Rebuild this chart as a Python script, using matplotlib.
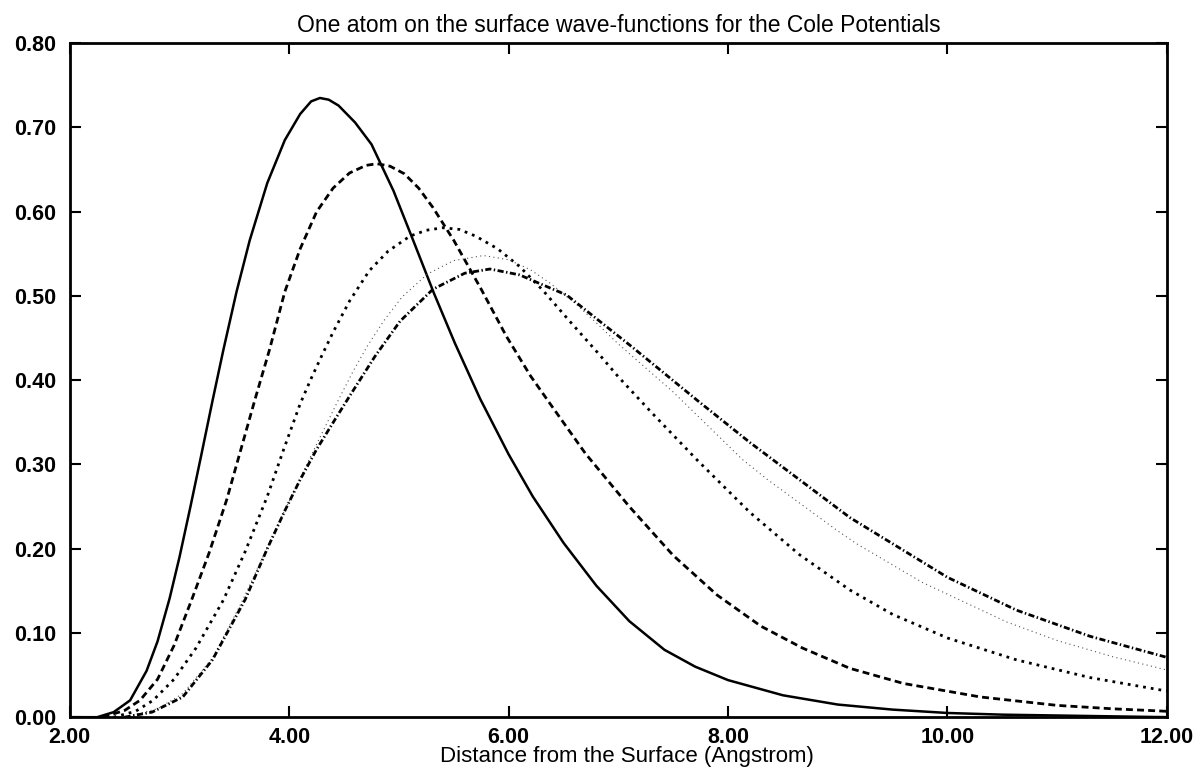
import matplotlib
matplotlib.use('Agg')
import matplotlib.pyplot as plt

# curve data (distance in Angstrom, wave-function value)
x_a = [2.00, 2.25, 2.40, 2.55, 2.70, 2.80, 2.91, 3.00, 3.10, 3.20, 3.30, 3.40, 3.52,
       3.64, 3.80, 3.96, 4.10, 4.20, 4.28, 4.36, 4.45, 4.60, 4.75, 4.95, 5.13, 5.32,
       5.51, 5.74, 6.00, 6.22, 6.50, 6.80, 7.10, 7.42, 7.70, 8.00, 8.50, 9.00, 9.50,
       10.00, 10.50, 11.00, 12.00]
y_a = [0.000, 0.000, 0.006, 0.020, 0.055, 0.090, 0.141, 0.190, 0.250, 0.312, 0.375, 0.436, 0.505,
       0.566, 0.634, 0.685, 0.716, 0.731, 0.735, 0.733, 0.726, 0.706, 0.680, 0.625, 0.566, 0.503,
       0.444, 0.378, 0.312, 0.262, 0.207, 0.156, 0.114, 0.080, 0.060, 0.044, 0.026, 0.015, 0.009,
       0.005, 0.003, 0.002, 0.000]

x_b = [2.30, 2.50, 2.64, 2.80, 2.95, 3.11, 3.27, 3.43, 3.56, 3.69, 3.82, 3.96, 4.10,
       4.25, 4.40, 4.55, 4.70, 4.80, 4.92, 5.05, 5.18, 5.31, 5.50, 5.75, 5.98, 6.20,
       6.40, 6.70, 7.10, 7.50, 7.90, 8.30, 8.68, 9.11, 9.60, 10.30, 11.00, 11.50, 12.00]
y_b = [0.000, 0.008, 0.020, 0.045, 0.085, 0.139, 0.195, 0.258, 0.318, 0.378, 0.436, 0.505, 0.556,
       0.600, 0.628, 0.646, 0.655, 0.657, 0.654, 0.645, 0.628, 0.605, 0.566, 0.508, 0.452, 0.405,
       0.368, 0.313, 0.250, 0.192, 0.145, 0.108, 0.082, 0.058, 0.040, 0.024, 0.014, 0.010, 0.007]

x_c = [2.40, 2.60, 2.76, 2.95, 3.15, 3.40, 3.60, 3.80, 3.95, 4.10, 4.20, 4.30, 4.40,
       4.55, 4.73, 4.90, 5.10, 5.25, 5.40, 5.55, 5.70, 5.90, 6.10, 6.31, 6.55, 6.83,
       7.00, 7.30, 7.72, 8.20, 8.65, 9.11, 9.50, 10.00, 10.63, 11.30, 12.00]
y_c = [0.000, 0.007, 0.020, 0.045, 0.082, 0.139, 0.197, 0.262, 0.318, 0.372, 0.402, 0.430, 0.457,
       0.494, 0.530, 0.553, 0.571, 0.578, 0.581, 0.579, 0.571, 0.556, 0.535, 0.507, 0.471, 0.430,
       0.404, 0.362, 0.305, 0.243, 0.193, 0.151, 0.122, 0.094, 0.068, 0.047, 0.031]

x_d = [2.50, 2.80, 3.03, 3.30, 3.55, 3.76, 3.92, 4.07, 4.19, 4.31, 4.45, 4.58, 4.71,
       4.87, 5.03, 5.26, 5.50, 5.77, 6.00, 6.20, 6.38, 6.60, 6.80, 7.00, 7.50, 8.13,
       8.36, 8.99, 9.17, 9.77, 10.54, 11.00, 11.50, 12.00]
y_d = [0.000, 0.010, 0.028, 0.070, 0.132, 0.190, 0.235, 0.275, 0.308, 0.340, 0.377, 0.410, 0.440,
       0.472, 0.499, 0.526, 0.542, 0.548, 0.543, 0.531, 0.515, 0.492, 0.468, 0.443, 0.386, 0.306,
       0.282, 0.222, 0.206, 0.160, 0.113, 0.091, 0.072, 0.056]

x_e = [2.50, 2.75, 3.03, 3.30, 3.60, 3.80, 3.96, 4.10, 4.25, 4.43, 4.55, 4.78, 5.01,
       5.31, 5.60, 5.83, 6.10, 6.53, 7.13, 7.72, 8.20, 9.11, 10.00, 10.63, 11.30, 12.00]
y_e = [0.000, 0.006, 0.024, 0.068, 0.140, 0.200, 0.245, 0.282, 0.318, 0.356, 0.381, 0.428, 0.470,
       0.508, 0.527, 0.532, 0.525, 0.501, 0.439, 0.376, 0.326, 0.237, 0.166, 0.127, 0.096, 0.071]

x_ticks = [2, 4, 6, 8, 10, 12]
y_ticks = [0.0, 0.1, 0.2, 0.3, 0.4, 0.5, 0.6, 0.7, 0.8]

plt.rcParams['font.family'] = ['Liberation Sans', 'DejaVu Sans']

fig = plt.figure(figsize=(12.03, 7.72), dpi=100)
ax = fig.add_axes([0.058, 0.071, 0.912, 0.873])

ax.plot(x_a, y_a, color='black', linewidth=1.8, linestyle='-')
ax.plot(x_b, y_b, color='black', linewidth=2.0, linestyle=(0, (2.5, 1.5)))
ax.plot(x_c, y_c, color='black', linewidth=2.0, linestyle=(0, (1, 1.8)))
ax.plot(x_d, y_d, color='#555555', linewidth=0.8, linestyle=(0, (1, 3)))
ax.plot(x_e, y_e, color='black', linewidth=2.0, linestyle=(0, (2.2, 0.9, 0.5, 0.9)))

ax.set_xlim(2, 12)
ax.set_ylim(0, 0.8)
ax.set_xticks(x_ticks)
ax.set_yticks(y_ticks)
ax.set_xticklabels(['%.2f' % v for v in x_ticks])
ax.set_yticklabels(['%.2f' % v for v in y_ticks])
ax.tick_params(direction='in', length=8, width=1.5, top=True, right=True,
               labelsize=15.5)
ax.tick_params(axis='y', pad=10)
ax.tick_params(axis='x', pad=7)
for lab in ax.get_xticklabels() + ax.get_yticklabels():
    lab.set_fontweight('bold')
for s in ax.spines.values():
    s.set_linewidth(2)

ax.set_title('One atom on the surface wave-functions for the Cole Potentials',
             fontsize=16.5, pad=8)
# x label sits just under the tick labels, as in the reference
fig.text(0.521, 0.006, 'Distance from the Surface (Angstrom)', fontsize=16,
         ha='center', va='bottom')

fig.savefig('out.png', dpi=100)
